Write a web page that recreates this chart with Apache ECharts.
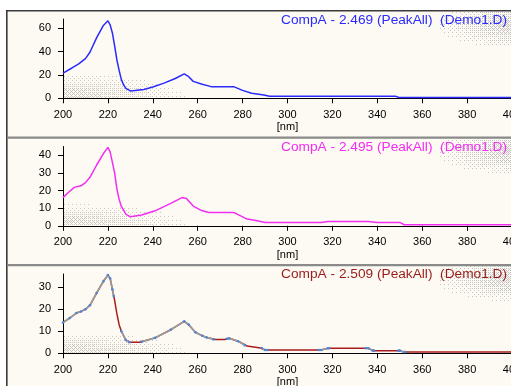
<!DOCTYPE html>
<html><head><meta charset="utf-8">
<script src="https://cdn.jsdelivr.net/npm/echarts@6/dist/echarts.min.js"></script>
<style>html,body{margin:0;padding:0;background:#fff}#c{width:511px;height:386px}</style>
</head><body><div id="c"></div>
<script>
// ---- data (wavelength nm, absorbance mAU) ----
const xTicks = [200,220,240,260,280,300,320,340,360,380,400];
const titles = ['CompA - 2.469 (PeakAll)  (Demo1.D)','CompA - 2.495 (PeakAll)  (Demo1.D)','CompA - 2.509 (PeakAll)  (Demo1.D)'];

const nm1 = [200,204,207,210,212,215,218,220,221,222,223,224,225,226,227,228,230,232,236,240,245,250,254,256,258,262,266,276,280,284,288,290,292,348,350,400];
const v1  = [21.5,26,29.5,34,39.5,52,62.5,66.5,63,56,45,33,24,16,11.5,8.5,6.3,6.6,7.6,9.7,13,17,21,18.5,14.5,12,10,10,6.8,4.3,3.3,2.6,1.8,1.8,0.6,0.6];

const nm2 = [200,202,205,208,210,212,215,218,220,221,222,223,224,225,226,228,230,235,241,248,253,255,258,262,265,276,282,286,290,315,318,336,340,350,352,400];
const v2  = [16,18.5,21.8,22.7,24.5,27.5,34.5,41,44.5,42,36,30,21,15,11,6.6,5.1,6.1,8.5,12.7,16,15.5,11.2,8.5,7.6,7.6,3.8,3,1.9,1.9,2.5,2.5,1.9,1.9,0.6,0.6];

const nm3 = [200,203,206,208,210,212,215,218,220,221,222,223,224,225,226,228,230,234,241,248,254,256,259,262,264,268,272,274,278,282,288,290,315,318,336,338,350,352,400];
const v3  = [14,16,18.3,19,20,21.8,27.4,32.7,35.5,34,29,24,18,13,10,6,5,5,7,10.7,14.5,13,9.5,8,7.2,6.3,6.3,6.8,5.5,3.3,2.4,1.5,1.5,2.3,2.3,1.2,1.2,0.6,0.6];

// overlaid reference spectrum (grey) in panel 3, with gaps where the red trace shows
const nm3g = [200,203,206,208,210,212,215,218,220,221,222,222.6,222.7,226,228,229.5,229.6,235,241,248,254,256,259,262,264,267,267.1,273,274,278,281,281.1,288.5,290,291,291.1,314,315,318,318.5,318.6,335,336,338,338.5,338.6,349.5,350,352,352.5];
const v3g  = [14,16,18.3,19,20,21.8,27.4,32.7,35.5,34,29,26,null,10,6,5,null,5.2,7,10.7,14.5,13,9.5,8,7.2,6.3,null,6.6,6.8,5.5,3.7,null,2.4,1.5,1.5,null,1.5,1.5,2.3,2.3,null,2.3,2.3,1.2,1.2,null,1.2,1.2,0.6,0.6];

const yMax = [68,45,36];
const yInterval = [20,10,10];
const colors = ['#2a2aff','#f22ef2','#a81c1c'];
const titleColors = ['#2a2aff','#f22ef2','#9b1b1b'];

function pairs(xs, ys){ return xs.map((x,i)=> [x, ys[i]==null ? '-' : ys[i]]); }

const W = 511, H = 386;
const gridTops = [19, 146.5, 274];
const gridH = 79.3;
const panelTops = [11, 137.5, 265];
const FONT = 'Liberation Sans, Arial, sans-serif';

const grids = [], xAxes = [], yAxes = [], series = [], titleArr = [];
for (let i=0;i<3;i++){
  grids.push({left:63, width:449, top:gridTops[i], height:gridH, containLabel:false, outerBoundsMode:'none'});
  xAxes.push({
    type:'value', gridIndex:i, min:200, max:400, interval:20,
    axisLine:{show:true, lineStyle:{color:'#000', width:1}},
    axisTick:{show:true, length:5, lineStyle:{color:'#000'}},
    splitLine:{show:false},
    axisLabel:{color:'#000', fontSize:11, fontFamily:FONT, margin:11, showMaxLabel:true, hideOverlap:false},
    name:'[nm]', nameLocation:'middle', nameGap:21,
    nameTextStyle:{color:'#000', fontSize:11, fontFamily:FONT, lineHeight:12}
  });
  yAxes.push({
    type:'value', gridIndex:i, min:0, max:yMax[i], interval:yInterval[i],
    axisLine:{show:true, lineStyle:{color:'#000', width:1}},
    axisTick:{show:true, length:5, lineStyle:{color:'#000'}},
    splitLine:{show:false},
    axisLabel:{color:'#000', fontSize:11, fontFamily:FONT, margin:12, showMaxLabel:false}
  });
  titleArr.push({
    text: titles[i], right: 4, top: panelTops[i] + 2, padding: 0,
    textStyle:{color:titleColors[i], fontSize:13.7, fontWeight:'normal', fontFamily:FONT, lineHeight:15}
  });
}

const nmArr = [nm1,nm2,nm3], vArr = [v1,v2,v3];
for (let i=0;i<3;i++){
  series.push({
    type:'line', xAxisIndex:i, yAxisIndex:i, data:pairs(nmArr[i], vArr[i]),
    showSymbol:false, smooth:false, lineStyle:{color:colors[i], width:1.5}, z:3, animation:false
  });
}
series.push({
  type:'line', xAxisIndex:2, yAxisIndex:2, data:pairs(nm3g, v3g),
  showSymbol:true, symbol:'circle', symbolSize:2.6, showAllSymbol:true, connectNulls:false,
  itemStyle:{color:'#4f86d6'}, smooth:false, lineStyle:{color:'#9c9c9c', width:1.7}, z:4, animation:false
});

// ---- decorative halftone shading (background only) ----
const bayer = [[0,8,2,10],[12,4,14,6],[3,11,1,9],[15,7,13,5]];
const shadeCanvas = document.createElement('canvas');
shadeCanvas.width = W; shadeCanvas.height = H;
const sctx = shadeCanvas.getContext('2d');
function dither(x0,y0,x1,y1,fn,color){
  sctx.fillStyle = color;
  for (let y=Math.floor(y0); y<y1; y++){
    for (let x=Math.floor(x0); x<x1; x++){
      const I = fn(x,y);
      if (I > (bayer[y&3][x&3]+0.5)/16) sctx.fillRect(x,y,1,1);
    }
  }
}
const axisBot = [98, 225, 353];
const shadeHt = [24, 21, 20];
for (let i=0;i<3;i++){
  const yb = axisBot[i], hh = shadeHt[i];
  dither(64, yb-hh-4, 210, yb, (x,y)=>{
    const d = Math.sqrt(Math.pow((x-64)/130,2) + Math.pow((yb-y)/(hh+2),2));
    return Math.max(0, 0.5*(1-d));
  }, '#cbc7bf');
  const ty = panelTops[i];
  dither(420, ty+1, W, ty+40, (x,y)=>{
    const d = Math.sqrt(Math.pow((W+10-x)/90,2) + Math.pow((y-(ty+14))/24,2));
    return Math.max(0, 0.55*(1-d));
  }, '#c4c4c4');
}

const graphic = [
  {type:'rect', shape:{x:0,y:0,width:W,height:H}, style:{fill:'#ffffff'}, z:-20, silent:true},
  {type:'rect', shape:{x:7,y:11,width:W-7,height:H-11}, style:{fill:'#fcfaf2'}, z:-19, silent:true},
  {type:'image', style:{image:shadeCanvas, x:0, y:0, width:W, height:H}, z:-15, silent:true},
  {type:'rect', shape:{x:7,y:10,width:W-7,height:1.6}, style:{fill:'#3a3a3a'}, z:-10, silent:true},
  {type:'rect', shape:{x:6,y:10,width:1.6,height:H-10}, style:{fill:'#3a3a3a'}, z:-10, silent:true},
  {type:'rect', shape:{x:7,y:136.5,width:W-7,height:2.2}, style:{fill:'#8a8a8a'}, z:-10, silent:true},
  {type:'rect', shape:{x:7,y:264,width:W-7,height:2.2}, style:{fill:'#8a8a8a'}, z:-10, silent:true}
];

const chart = echarts.init(document.getElementById('c'), null, {renderer:'canvas', width:W, height:H});
chart.setOption({
  animation:false,
  backgroundColor:'#ffffff',
  title:titleArr,
  grid:grids, xAxis:xAxes, yAxis:yAxes, series:series,
  graphic:graphic
});
</script></body></html>
